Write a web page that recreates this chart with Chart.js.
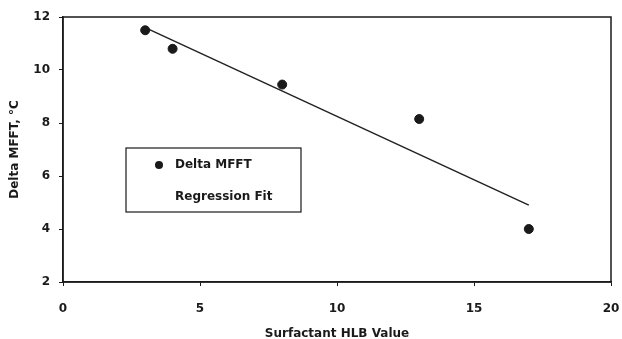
<!DOCTYPE html>
<html>
<head>
<meta charset="utf-8">
<script src="https://cdn.jsdelivr.net/npm/chart.js@4.4.1/dist/chart.umd.min.js"></script>
<style>
  html, body { margin: 0; padding: 0; background: #fff; }
  #wrap { width: 622px; height: 339px; position: relative; }
</style>
</head>
<body>
<div id="wrap"><canvas id="mfftChart"></canvas></div>
<script>
// --- DATA ---
const hlbValues = [3, 4, 8, 13, 17];
const deltaMfft = [11.5, 10.8, 9.45, 8.15, 4.0];
const fitX = [3, 17];
const fitY = [11.6, 4.9];
const xTicks = [0, 5, 10, 15, 20];
const yTicks = [2, 4, 6, 8, 10, 12];

const ink = '#1a1a1a';
const fontFamily = '"DejaVu Sans", Verdana, sans-serif';
const textFont = { family: fontFamily, size: 12, weight: 'bold' };

// frame round the plot + legend box inside it
const framePlugin = {
    id: 'frame',
    afterDraw(chart) {
        const { ctx, chartArea: a } = chart;
        ctx.save();
        ctx.strokeStyle = ink;
        ctx.lineWidth = 1.5;
        ctx.strokeRect(a.left, a.top, a.right - a.left, a.bottom - a.top);

        // legend
        const bx = 126, by = 148, bw = 175, bh = 64;
        ctx.lineWidth = 1.2;
        ctx.strokeRect(bx, by, bw, bh);
        ctx.font = 'bold 12px ' + fontFamily;
        ctx.fillStyle = ink;
        ctx.textBaseline = 'middle';
        const ds = chart.data.datasets;
        ctx.beginPath();
        ctx.arc(159, 165, 4, 0, Math.PI * 2);
        ctx.fill();
        ctx.fillText(ds[0].label, 175, 165);
        ctx.fillText(ds[1].label, 175, 197);
        ctx.restore();
    }
};

const chart = new Chart(document.getElementById('mfftChart'), {
    type: 'scatter',
    data: {
        datasets: [
            {
                label: 'Delta MFFT',
                data: hlbValues.map((x, i) => ({ x: x, y: deltaMfft[i] })),
                backgroundColor: ink,
                borderColor: ink,
                pointRadius: 4.5,
                showLine: false
            },
            {
                label: 'Regression Fit',
                data: fitX.map((x, i) => ({ x: x, y: fitY[i] })),
                borderColor: '#222',
                borderWidth: 1.5,
                pointRadius: 0,
                showLine: true,
                fill: false
            }
        ]
    },
    options: {
        responsive: true,
        maintainAspectRatio: false,
        animation: false,
        layout: { padding: { top: 17, right: 11, left: 0, bottom: 0 } },
        plugins: {
            legend: { display: false },
            tooltip: { enabled: false }
        },
        scales: {
            x: {
                type: 'linear',
                min: 0,
                max: 20,
                afterBuildTicks: (s) => { s.ticks = xTicks.map(v => ({ value: v })); },
                afterFit: (s) => { s.height = 57; s.paddingLeft = 0; s.paddingRight = 0; },
                ticks: { color: ink, font: textFont, padding: 16 },
                grid: { drawOnChartArea: false, drawTicks: true, tickLength: 4, color: ink },
                border: { color: ink, width: 1.5 },
                title: {
                    display: true,
                    text: 'Surfactant HLB Value',
                    color: ink,
                    font: textFont,
                    padding: { top: 4, bottom: -2 }
                }
            },
            y: {
                type: 'linear',
                min: 2,
                max: 12,
                afterBuildTicks: (s) => { s.ticks = yTicks.map(v => ({ value: v })); },
                afterFit: (s) => { s.width = 63; },
                ticks: { color: ink, font: textFont, padding: 9 },
                grid: { drawOnChartArea: false, drawTicks: true, tickLength: 4, color: ink },
                border: { color: ink, width: 1.5 },
                title: {
                    display: true,
                    text: 'Delta MFFT, °C',
                    color: ink,
                    font: textFont,
                    padding: { top: 8, bottom: 0 }
                }
            }
        }
    },
    plugins: [framePlugin]
});
</script>
</body>
</html>
